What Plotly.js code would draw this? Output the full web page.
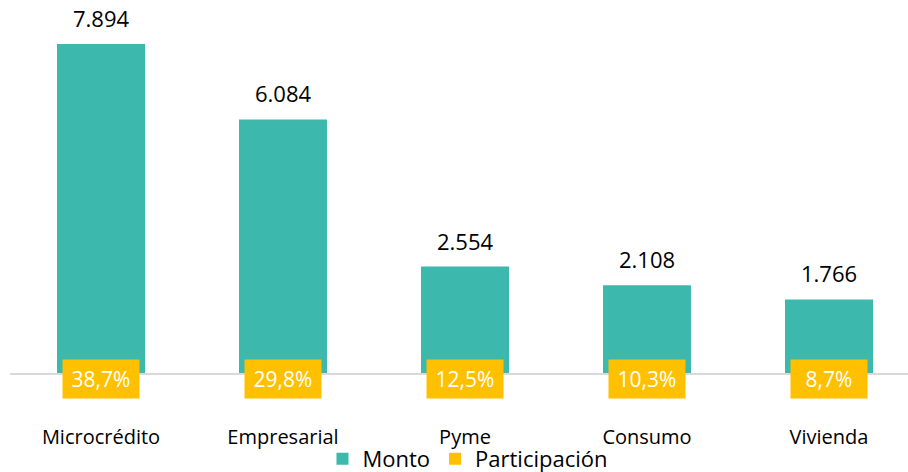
<!DOCTYPE html>
<html>
<head>
<meta charset="utf-8">
<script src="https://cdn.plot.ly/plotly-3.0.1.min.js"></script>
<style>html,body{margin:0;padding:0;background:#fff;}#chart{width:908px;height:472px;}</style>
</head>
<body>
<div id="chart"></div>
<script>
var categorias = ["Microcrédito", "Empresarial", "Pyme", "Consumo", "Vivienda"];
var monto = [7894, 6084, 2554, 2108, 1766];
var participacion = [38.7, 29.8, 12.5, 10.3, 8.7];

var teal = "#3CB8AC";
var yellow = "#FFC000";
var fontFam = "Open Sans, sans-serif";

var traces = [
  {
    type: "bar", name: "Monto", x: categorias, y: monto,
    marker: {color: teal}, width: 0.4835, hoverinfo: "skip"
  },
  {
    type: "bar", name: "Participación", x: categorias, y: participacion,
    yaxis: "y2", marker: {color: yellow}, width: 0.42, hoverinfo: "skip"
  }
];

function fmtMiles(v) {
  return String(v).replace(/\B(?=(\d{3})+(?!\d))/g, ".");
}

var valueLabels = categorias.map(function (c, i) {
  return {
    x: c, y: monto[i], xref: "x", yref: "y", yanchor: "middle", yshift: 26,
    text: fmtMiles(monto[i]), showarrow: false,
    font: {family: fontFam, size: 22, color: "#000"}
  };
});

var pctLabels = categorias.map(function (c, i) {
  return {
    x: c, y: 0, xref: "x", yref: "y", yshift: -6,
    text: participacion[i].toFixed(1).replace(".", ",") + "%",
    showarrow: false, bgcolor: yellow, width: 66, height: 28, borderpad: 5,
    font: {family: fontFam, size: 21, color: "#fff"}
  };
});

var layout = {
  width: 908, height: 472,
  margin: {l: 10, r: 0, t: 10, b: 99, autoexpand: false},
  paper_bgcolor: "#fff", plot_bgcolor: "#fff",
  separators: ",.",
  barmode: "overlay",
  showlegend: true,
  legend: {orientation: "h", x: 0.51, xanchor: "center", yref: "container", y: 0.072, yanchor: "top",
           bgcolor: "rgba(0,0,0,0)",
           font: {family: fontFam, size: 22, color: "#000"}, traceorder: "normal"},
  xaxis: {type: "category", range: [-0.5, 4.434], showline: true, linecolor: "#D9D9D9", linewidth: 2,
          ticks: "outside", ticklen: 45, tickcolor: "rgba(0,0,0,0)", automargin: false,
          tickfont: {family: fontFam, size: 20, color: "#000"}, showgrid: false, zeroline: false},
  yaxis: {range: [0, 8709], visible: false, showgrid: false, zeroline: false},
  yaxis2: {range: [0, 100000], overlaying: "y", visible: false, showgrid: false, zeroline: false},
  annotations: valueLabels.concat(pctLabels)
};

Plotly.newPlot("chart", traces, layout, {displayModeBar: false, staticPlot: true});
</script>
</body>
</html>
